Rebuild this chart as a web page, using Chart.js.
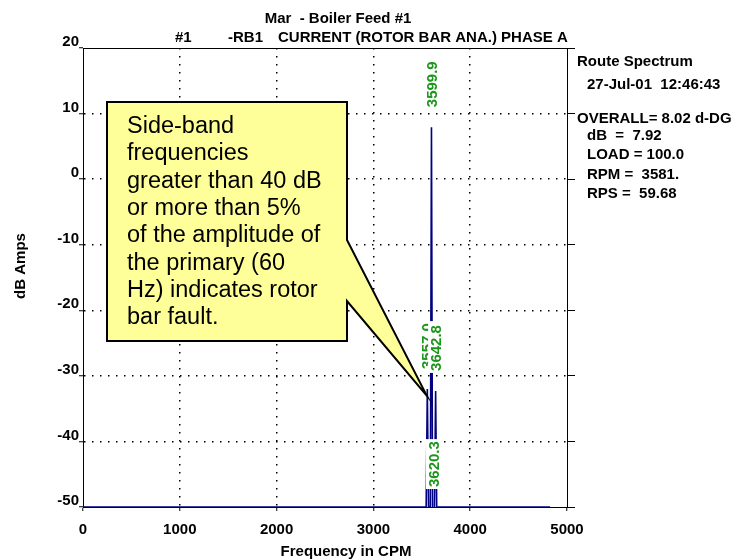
<!DOCTYPE html>
<html>
<head>
<meta charset="utf-8">
<script src="https://cdn.jsdelivr.net/npm/chart.js@4.4.0/dist/chart.umd.min.js"></script>
<style>
  html, body { margin: 0; padding: 0; background: #fff; }
  #spectrum { display: block; }
</style>
</head>
<body>
<canvas id="spectrum" width="750" height="559"></canvas>
<script>
// spectrum (CPM / dB)
const freqCpm = [0, 3545, 3557.0, 3569, 3588, 3599.9, 3611, 3620.3, 3631, 3642.8, 3654, 4825];
const ampDb = [-50, -50, -32.0, -50, -50, 7.92, -50, -51, -50, -32.3, -50, -50];

// peak markers, drawn in this order
const peakText = ["3599.9", "3620.3", "3557.0", "3642.8"];
const peakFreq = [3599.9, 3620.3, 3557.0, 3642.8];
const peakAmp = [7.92, -51, -32.0, -32.3];

const xTicks = [0, 1000, 2000, 3000, 4000, 5000];
const yTicks = [20, 10, 0, -10, -20, -30, -40, -50];

const infoLines = [
  "Route Spectrum",
  "27-Jul-01  12:46:43",
  "OVERALL= 8.02 d-DG",
  "dB  =  7.92",
  "LOAD = 100.0",
  "RPM =  3581.",
  "RPS =  59.68",
];

const noteLines = [
  "Side-band",
  "frequencies",
  "greater than 40 dB",
  "or more than 5%",
  "of the amplitude of",
  "the primary (60",
  "Hz) indicates rotor",
  "bar fault.",
];
// where the callout points (CPM, dB)
const noteTip = [3551, -33];

const FONT = '"Liberation Sans", Arial, sans-serif';
const BOLD = "bold 15px " + FONT;

const points = freqCpm.map((f, i) => ({ x: f, y: ampDb[i] }));

const decorPlugin = {
  id: "decor",
  beforeDatasetsDraw(chart) {
    const { ctx, chartArea: a } = chart;
    ctx.save();
    ctx.strokeStyle = "#000";
    ctx.lineWidth = 1;
    ctx.beginPath();
    ctx.moveTo(a.left, a.top + 0.5);
    ctx.lineTo(a.right, a.top + 0.5);
    ctx.stroke();
    ctx.restore();
  },
  afterDatasetsDraw(chart) {
    const { ctx, chartArea: a } = chart;
    const xs = chart.scales.x;
    const ys = chart.scales.y;

    // peak labels: green, rotated, on white
    ctx.save();
    ctx.font = BOLD;
    for (let i = 0; i < peakText.length; i++) {
      const px = xs.getPixelForValue(peakFreq[i]);
      const py = ys.getPixelForValue(Math.max(peakAmp[i], ys.min)) - 20;
      const w = ctx.measureText(peakText[i]).width;
      ctx.save();
      ctx.translate(px, py);
      ctx.rotate(-Math.PI / 2);
      ctx.fillStyle = "#fff";
      ctx.fillRect(-2, -7.5, w + 4, 15);
      ctx.fillStyle = "#1b961b";
      ctx.textAlign = "left";
      ctx.textBaseline = "middle";
      ctx.fillText(peakText[i], 0, 1);
      ctx.restore();
    }
    ctx.restore();

    // callout
    const tx = xs.getPixelForValue(noteTip[0]);
    const ty = ys.getPixelForValue(noteTip[1]);
    ctx.save();
    ctx.beginPath();
    ctx.moveTo(107, 102);
    ctx.lineTo(347, 102);
    ctx.lineTo(347, 240);
    ctx.lineTo(tx, ty);
    ctx.lineTo(347, 301);
    ctx.lineTo(347, 341);
    ctx.lineTo(107, 341);
    ctx.closePath();
    ctx.fillStyle = "#ffff99";
    ctx.fill();
    ctx.strokeStyle = "#000";
    ctx.lineWidth = 2;
    ctx.lineJoin = "miter";
    ctx.stroke();
    ctx.fillStyle = "#000";
    ctx.font = "23.5px " + FONT;
    ctx.textAlign = "left";
    ctx.textBaseline = "alphabetic";
    noteLines.forEach((t, i) => ctx.fillText(t, 127, 133 + i * 27.3));
    ctx.restore();
  },
  afterDraw(chart) {
    const { ctx } = chart;
    ctx.save();
    ctx.fillStyle = "#000";
    ctx.font = BOLD;
    ctx.textBaseline = "alphabetic";

    ctx.textAlign = "center";
    ctx.fillText("Mar  - Boiler Feed #1", 338, 23);
    ctx.textAlign = "left";
    ctx.fillText("#1", 175, 42);
    ctx.fillText("-RB1", 228, 42);
    ctx.fillText("CURRENT (ROTOR BAR ANA.) PHASE A", 278, 42);

    const infoX = [577, 587, 577, 587, 587, 587, 587];
    const infoY = [66, 89, 123, 140, 159, 179, 198];
    infoLines.forEach((t, i) => ctx.fillText(t, infoX[i], infoY[i]));

    ctx.textAlign = "center";
    ctx.textBaseline = "middle";
    ctx.fillText("Frequency in CPM", 346, 552);
    ctx.translate(21, 266);
    ctx.rotate(-Math.PI / 2);
    ctx.fillText("dB Amps", 0, 0);
    ctx.restore();
  },
};

const edgeClear = (lo, hi) => (c) =>
  c.tick && (c.tick.value === lo || c.tick.value === hi) ? "rgba(0,0,0,0)" : "#000";

new Chart(document.getElementById("spectrum"), {
  type: "line",
  data: {
    datasets: [
      {
        data: points,
        borderColor: "#000080",
        borderWidth: 1.6,
        pointRadius: 0,
        tension: 0,
        fill: false,
      },
    ],
  },
  options: {
    responsive: false,
    animation: false,
    devicePixelRatio: 1,
    layout: { padding: { top: 48, right: 175, bottom: 0, left: 0 } },
    plugins: {
      legend: { display: false },
      tooltip: { enabled: false },
    },
    scales: {
      x: {
        type: "linear",
        min: xTicks[0],
        max: xTicks[xTicks.length - 1],
        afterBuildTicks: (s) => { s.ticks = xTicks.map((v) => ({ value: v })); },
        afterFit: (s) => { s.height = 52; },
        ticks: {
          color: "#000",
          font: { family: FONT, size: 15, weight: "bold" },
          padding: 10,
          maxRotation: 0,
          autoSkip: false,
          callback: (v) => String(v),
        },
        grid: { color: edgeClear(0, 5000), lineWidth: 1.5, tickColor: "#000", tickWidth: 1, tickLength: 4 },
        border: { display: true, color: "#000", width: 1, dash: [1.5, 6.5] },
      },
      y: {
        type: "linear",
        position: "left",
        min: yTicks[yTicks.length - 1],
        max: yTicks[0],
        afterBuildTicks: (s) => { s.ticks = yTicks.slice().reverse().map((v) => ({ value: v })); },
        afterFit: (s) => { s.width = 83; },
        ticks: {
          color: "#000",
          font: { family: FONT, size: 15, weight: "bold" },
          padding: 0,
          labelOffset: -6,
          autoSkip: false,
          callback: (v) => String(v),
        },
        grid: { color: edgeClear(-50, 20), lineWidth: 1.5, tickColor: "#000", tickWidth: 1, tickLength: 4 },
        border: { display: true, color: "#000", width: 1, dash: [1.5, 6.5] },
      },
      y2: {
        type: "linear",
        position: "right",
        min: yTicks[yTicks.length - 1],
        max: yTicks[0],
        afterBuildTicks: (s) => { s.ticks = yTicks.slice().reverse().map((v) => ({ value: v })); },
        afterFit: (s) => { s.width = 8; },
        ticks: { display: false },
        grid: { drawOnChartArea: false, tickColor: "#000", tickWidth: 1, tickLength: 8 },
        border: { display: true, color: "#000", width: 1 },
      },
    },
  },
  plugins: [decorPlugin],
});
</script>
</body>
</html>
